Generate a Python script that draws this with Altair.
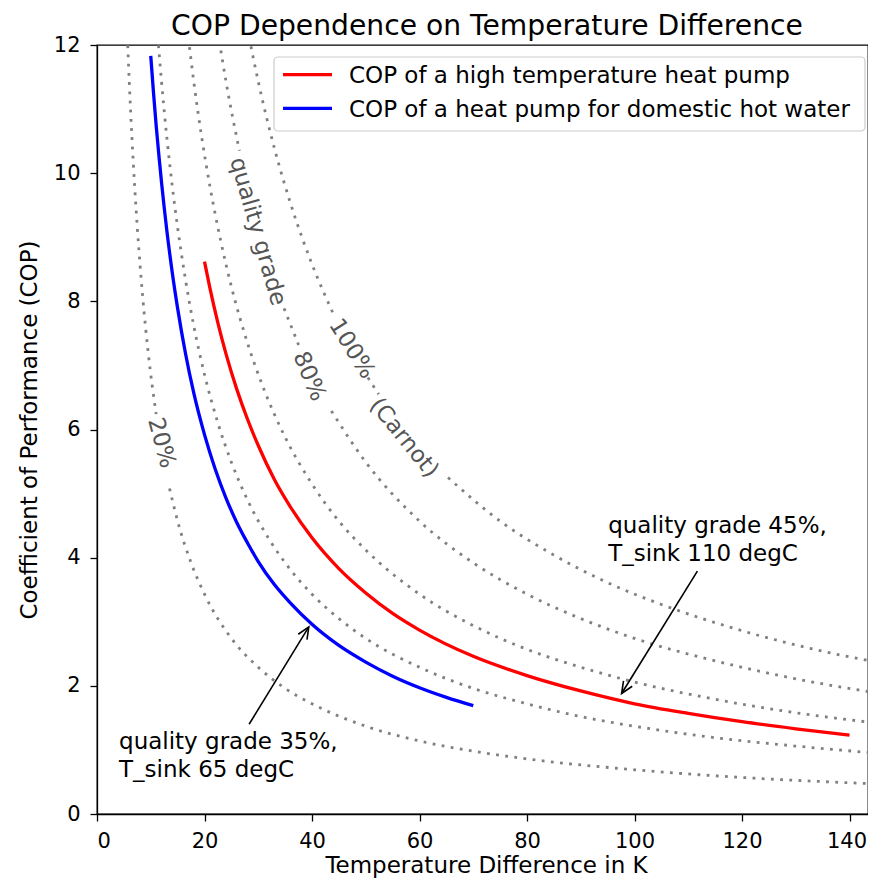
import altair as alt
import pandas as pd

FONT = "DejaVu Sans"
TITLE = "COP Dependence on Temperature Difference"

# ---------------- reference curves (quality grade relative to Carnot) ----------------
g100_x = [28.3, 30, 33, 36, 40, 44.1, 50.4, 52.4, 65.3, 75, 85, 95, 105, 120, 135, 145]
g100_y = [12.12, 11.43, 10.39, 9.53, 8.58, 7.78, 6.81, 6.55, 5.25, 4.57, 4.04, 3.61, 3.27, 2.86, 2.54, 2.37]
g100_seg = [0, 0, 0, 0, 0, 0, 1, 1, 2, 2, 2, 2, 2, 2, 2, 2]

g80_x = [22.5, 24, 26.5, 34.8, 37.5, 43.6, 50, 60, 70, 80, 90, 100, 115, 130, 145]
g80_y = [12.2, 11.43, 10.35, 7.89, 7.32, 6.29, 5.49, 4.57, 3.92, 3.43, 3.05, 2.74, 2.39, 2.11, 1.89]
g80_seg = [0, 0, 0, 1, 1, 2, 2, 2, 2, 2, 2, 2, 2, 2, 2]

g60_x = [17, 18, 19.5, 21, 23, 25, 28, 31, 35, 40, 45, 50, 60, 70, 80, 90, 100, 115, 130, 145]
g60_y = [12.11, 11.43, 10.55, 9.8, 8.95, 8.23, 7.35, 6.64, 5.88, 5.15, 4.57, 4.12, 3.43, 2.94,
         2.57, 2.29, 2.06, 1.79, 1.58, 1.42]
g60_seg = [0] * 20

g40_x = [11.3, 12, 13, 14, 15, 16.5, 18, 20, 22.5, 25, 28, 32, 36, 40, 45, 50, 60, 70, 80, 90,
         100, 115, 130, 145]
g40_y = [12.14, 11.43, 10.55, 9.8, 9.15, 8.32, 7.62, 6.86, 6.1, 5.49, 4.9, 4.29, 3.81, 3.43,
         3.05, 2.74, 2.29, 1.96, 1.72, 1.52, 1.37, 1.19, 1.06, 0.95]
g40_seg = [0] * 24

g20_x = [5.65, 6, 6.5, 7, 7.5, 8.5, 9.5, 11, 13.5, 15, 17.5, 20, 25, 30, 35, 40, 50, 60, 70, 80,
         100, 120, 145]
g20_y = [12.14, 11.43, 10.55, 9.8, 9.15, 8.07, 7.22, 6.24, 5.08, 4.57, 3.92, 3.43, 2.74, 2.29,
         1.96, 1.72, 1.37, 1.14, 0.98, 0.86, 0.69, 0.57, 0.47]
g20_seg = [0] * 8 + [1] * 15

# ---------------- heat pump series ----------------
series_labels = ["COP of a high temperature heat pump",
                 "COP of a heat pump for domestic hot water"]
series_colors = ["red", "blue"]

red_x = [20, 21, 22.5, 24, 26, 28, 30, 33, 36, 40, 45, 50, 55, 60, 70, 80, 90, 100, 110, 120, 130, 140]
red_y = [8.62, 8.21, 7.66, 7.18, 6.63, 6.16, 5.75, 5.22, 4.79, 4.31, 3.83, 3.45, 3.13, 2.87,
         2.46, 2.16, 1.92, 1.72, 1.57, 1.44, 1.33, 1.23]

blue_x = [10, 10.5, 11, 11.5, 12, 13, 14, 15, 16.5, 18, 20, 22, 24, 26, 28, 30, 33, 36, 40, 45,
          50, 55, 60, 65, 70]
blue_y = [11.83, 11.27, 10.75, 10.29, 9.86, 9.1, 8.45, 7.89, 7.17, 6.57, 5.92, 5.38, 4.93, 4.55,
          4.23, 3.94, 3.58, 3.29, 2.96, 2.63, 2.37, 2.15, 1.97, 1.82, 1.69]

# ---------------- curve labels ----------------
clabel_text = ["quality grade", "80%", "100%", "(Carnot)", "20%"]
clabel_x = [29.9, 39.5, 47.4, 57.1, 12.0]
clabel_y = [9.09, 6.83, 7.26, 5.87, 5.79]
clabel_angle = [74, 67, 58, 51, 75]

# ---------------- annotations ----------------
ann_text = ["quality grade 45%,\nT_sink 110 degC", "quality grade 35%,\nT_sink 65 degC"]
ann_x = [95.1, 4.1]
ann_y = [4.38, 1.01]
arrow_tail_x = [111.7, 28.3]
arrow_tail_y = [3.79, 1.40]
arrow_tip_x = [97.6, 39.4]
arrow_tip_y = [1.88, 2.92]
arrow_angle = [212, 31.5]

x_ticks = [0, 20, 40, 60, 80, 100, 120, 140]
y_ticks = [0, 2, 4, 6, 8, 10, 12]

# ---------------- build tables ----------------
ref_rows = []
for name, xs, ys, segs in [("100", g100_x, g100_y, g100_seg), ("80", g80_x, g80_y, g80_seg),
                           ("60", g60_x, g60_y, g60_seg), ("40", g40_x, g40_y, g40_seg),
                           ("20", g20_x, g20_y, g20_seg)]:
    for xv, yv, s in zip(xs, ys, segs):
        ref_rows.append({"dT": xv, "cop": yv, "key": f"{name}-{s}"})
ref_df = pd.DataFrame(ref_rows)

ser_rows = []
for lab, xs, ys in [(series_labels[0], red_x, red_y), (series_labels[1], blue_x, blue_y)]:
    for xv, yv in zip(xs, ys):
        ser_rows.append({"dT": xv, "cop": yv, "series": lab})
ser_df = pd.DataFrame(ser_rows)

clab_df = pd.DataFrame({"dT": clabel_x, "cop": clabel_y, "txt": clabel_text, "ang": clabel_angle})
ann_df = pd.DataFrame({"dT": ann_x, "cop": ann_y, "txt": ann_text})
arr_df = pd.DataFrame({"dT": arrow_tail_x, "cop": arrow_tail_y,
                       "dT2": arrow_tip_x, "cop2": arrow_tip_y, "ang": arrow_angle})
head_df = pd.DataFrame({"dT": arrow_tip_x, "cop": arrow_tip_y, "ang": arrow_angle})

W, H = 771, 769

X = alt.X("dT:Q", scale=alt.Scale(domain=[0, 143.44], nice=False, zero=False),
          axis=alt.Axis(values=x_ticks, title="Temperature Difference in K", format="d",
                        titleX=389, titleY=58.5, titleBaseline="alphabetic", titleAlign="center",
                        labelPadding=9,
                        labelOffset={"condition": {"test": "datum.value == 140", "value": -3},
                                     "value": 0}))
Y = alt.Y("cop:Q", scale=alt.Scale(domain=[0, 12], nice=False),
          axis=alt.Axis(values=y_ticks, title="Coefficient of Performance (COP)", format="d",
                        titleX=-60.5, titleY=H / 2, titleBaseline="alphabetic", titleAlign="center",
                        titleAngle=-90, labelPadding=10))

ref = alt.Chart(ref_df).mark_line(color="gray", strokeWidth=2.8, strokeDash=[2.8, 6.4],
                                  interpolate="monotone", clip=True).encode(
    x=X, y=Y, detail="key:N")

ser = alt.Chart(ser_df).mark_line(strokeWidth=3.3, interpolate="monotone", clip=True).encode(
    x=X, y=Y,
    color=alt.Color("series:N", scale=alt.Scale(domain=series_labels, range=series_colors),
                    legend=None))

clab = alt.Chart(clab_df).mark_text(font=FONT, fontSize=23, color="#555555", align="center",
                                    baseline="middle").encode(
    x=X, y=Y, text="txt:N", angle=alt.Angle("ang:Q", scale=None))

ann = alt.Chart(ann_df).mark_text(font=FONT, fontSize=23, color="black", align="left",
                                  baseline="alphabetic", lineBreak="\n", lineHeight=27.6).encode(
    x=X, y=Y, text="txt:N")

arr = alt.Chart(arr_df).mark_rule(color="black", strokeWidth=1.6).encode(
    x=X, y=Y, x2="dT2:Q", y2="cop2:Q")

head = alt.Chart(head_df).mark_point(shape="M-0.5,1.15L0,0L0.5,1.15", filled=False, color="black",
                                     strokeWidth=1.6, size=420, opacity=1).encode(
    x=X, y=Y, angle=alt.Angle("ang:Q", scale=None))

# ---------------- legend (drawn as a framed box) ----------------
one = pd.DataFrame({"k": [0]})
leg_box = alt.Chart(one).mark_rect(fill="white", fillOpacity=0.85, stroke="#cccccc", strokeWidth=1.2,
                                   cornerRadius=4).encode(
    x=alt.value(177), x2=alt.value(768), y=alt.value(12), y2=alt.value(86))
leg_layers = [leg_box]
for i, (lab, col) in enumerate(zip(series_labels, series_colors)):
    yc = 29.7 + 33.6 * i
    leg_layers.append(alt.Chart(one).mark_rule(color=col, strokeWidth=3.3).encode(
        x=alt.value(186), x2=alt.value(235), y=alt.value(yc)))
    leg_layers.append(alt.Chart(pd.DataFrame({"txt": [lab]})).mark_text(
        font=FONT, fontSize=23, color="black", align="left", baseline="alphabetic").encode(
        x=alt.value(252), y=alt.value(yc + 8.6), text="txt:N"))

title = alt.Chart(pd.DataFrame({"txt": [TITLE]})).mark_text(
    font=FONT, fontSize=28.2, color="black", align="center", baseline="alphabetic").encode(
    x=alt.value(390), y=alt.value(-10.5), text="txt:N")

chart = alt.layer(ref, ser, clab, arr, head, ann, *leg_layers, title).properties(
    width=W, height=H,
    autosize=alt.AutoSizeParams(type="none"),
    padding={"left": 89, "top": 37, "right": 0, "bottom": 64},
).configure_axis(
    labelFont=FONT, titleFont=FONT, labelFontSize=21, titleFontSize=23, titleFontWeight="normal",
    labelColor="black", titleColor="black", domainColor="black", tickColor="black",
    tickSize=7, domainWidth=1.3, tickWidth=1.3, grid=False
).configure_view(stroke="black", strokeWidth=1.3)

chart.save("out.html", embed_options={"renderer": "svg", "actions": False})
